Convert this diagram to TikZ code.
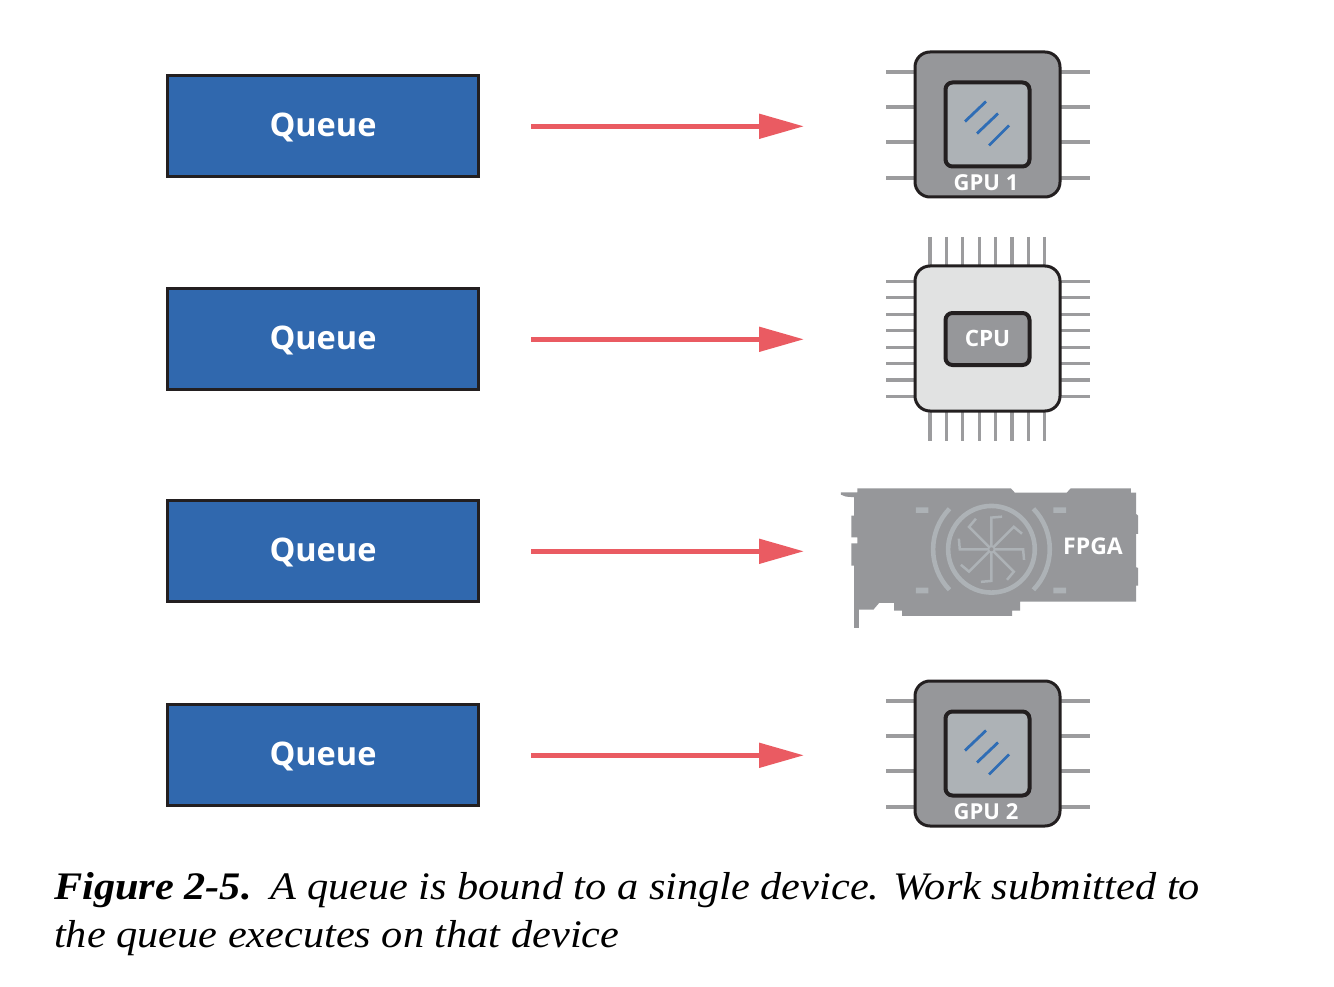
\documentclass[tikz,border=0pt]{standalone}
\usepackage{fontspec}
\setmainfont[FakeStretch=1.085]{Liberation Serif}
\newfontfamily\lblfont{Open Sans}
\usetikzlibrary{arrows.meta}
\definecolor{qblue}{HTML}{3068AE}
\definecolor{arrowred}{HTML}{EA5B62}
\definecolor{chipgray}{HTML}{96979A}
\definecolor{pingray}{HTML}{9C9C9E}
\definecolor{lightgray}{HTML}{ADB2B6}
\definecolor{cpubody}{HTML}{E1E2E2}
\definecolor{edge}{HTML}{231F20}
\definecolor{glass}{HTML}{2F6DB5}
\newcommand{\nudge}[2]{\raisebox{#1}[\height][\depth]{#2}}
\tikzset{
  x=1pt,y=-1pt,
  queue/.style={draw=edge,line width=2.6pt,fill=qblue,minimum width=311pt,minimum height=101pt,inner sep=0pt,text=white,font=\lblfont\bfseries\fontsize{32.5}{33}\selectfont},
  flow/.style={draw=arrowred,line width=5pt,-{Triangle[length=45pt,width=24pt,fill=arrowred]}},
  chipbody/.style={draw=edge,line width=3pt,rounded corners=15pt,minimum width=145pt,minimum height=145pt,inner sep=0pt},
  pin/.style={draw=pingray,line width=3.2pt},
  die/.style={draw=edge,line width=4pt,rounded corners=7pt,inner sep=0pt,minimum width=84pt},
  chiplabel/.style={text=white,inner sep=0pt,font=\lblfont\bfseries\fontsize{22}{22}\selectfont},
  glassline/.style={draw=glass,line width=2.8pt},
  fanpart/.style={draw=lightgray,line width=4.6pt},
}
\newcommand{\gpuchip}[3]{% name, centre y, label
  \foreach \d in {-52.5,-17.5,17.5,53.5}{
    \draw[pin] (886,#2+\d) -- (915,#2+\d);
    \draw[pin] (1060,#2+\d) -- (1090,#2+\d);
  }
  \node[chipbody,fill=chipgray] (#1) at (987.5,#2) {};
  \node[die,fill=lightgray,minimum height=84pt] (#1die) at (987.5,#2) {};
  \draw[glassline] (965,#2-3) -- (986,#2-23);
  \draw[glassline] (977,#2+9) -- (998,#2-11);
  \draw[glassline] (989,#2+21) -- (1009,#2+1);
  \node[chiplabel] (#1label) at (986,#2+58) {#3};
}
\begin{document}
\begin{tikzpicture}
\useasboundingbox (0,0) rectangle (1334,987);
\fill[white] (0,0) rectangle (1334,987);
% queues
\node[queue] (q1) at (323,126) {\nudge{-1pt}{Queue}};
\node[queue] (q2) at (323,339) {\nudge{-1pt}{Queue}};
\node[queue] (q3) at (323,551) {\nudge{-1pt}{Queue}};
\node[queue] (q4) at (323,755) {\nudge{-1pt}{Queue}};
% GPU 1, GPU 2
\gpuchip{gpua}{124.5}{GPU 1}
\gpuchip{gpub}{753.5}{GPU 2}
% CPU
\foreach \i in {0,...,7}{
  \draw[pin] (886,281.5+16.4*\i) -- (915,281.5+16.4*\i);
  \draw[pin] (1060,281.5+16.4*\i) -- (1090,281.5+16.4*\i);
  \draw[pin] (930+16.4*\i,237) -- (930+16.4*\i,266);
  \draw[pin] (930+16.4*\i,411) -- (930+16.4*\i,441);
}
\node[chipbody,fill=cpubody] (cpu) at (987.5,338.5) {};
\node[die,fill=chipgray,minimum height=52pt,font=\lblfont\bfseries\fontsize{22.5}{22.5}\selectfont,text=white] (cpudie) at (987.5,339) {\nudge{1pt}{CPU}};
% FPGA card
\begin{scope}[shift={(830.8,470.6)},scale=0.3333]
\fill[chipgray] (30,65)--(80,65)--(80,53)--(540,53)--(552,66)--(708,66)--(720,53)--(900,53)--(900,66)--(916,66)--(916,130)--(922,135)--(922,190)--(916,190)--(916,290)--(922,292)--(922,345)--(916,345)--(916,393)--(568,393)--(568,420)--(544,420)--(544,436)--(214,436)--(214,420)--(190,420)--(190,397)--(145,397)--(128,417)--(84,417)--(84,472)--(70,472)--(70,285)--(62,285)--(62,218)--(80,218)--(80,200)--(62,200)--(62,135)--(70,135)--(70,80)--(45,78)--(30,72)--cycle;
\fill[lightgray] (255,110) rectangle (293,127) (668,110) rectangle (706,127) (255,351) rectangle (293,368) (668,351) rectangle (706,368);
\coordinate (hub) at (482,236);
\draw[fanpart] (hub) circle[radius=130];
\draw[fanpart] (482,236)++(136:175) arc[start angle=136,end angle=224,radius=175];
\draw[fanpart] (482,236)++(44:175) arc[start angle=44,end angle=-44,radius=175];
\foreach \a in {0,45,...,315}{
  \draw[draw=lightgray,line width=2.5pt] (hub) -- ++(\a:95) -- ++(\a+85:32);
}
\fill[lightgray] (hub) circle[radius=12];
\fill[chipgray] (hub) circle[radius=6];
\end{scope}
\node[chiplabel,font=\lblfont\bfseries\fontsize{23}{23}\selectfont] (fpgalabel) at (1093,546) {FPGA};
% arrows
\coordinate (e1) at (804,126.3);
\coordinate (e2) at (804,339.3);
\coordinate (e3) at (804,551.3);
\coordinate (e4) at (804,755.3);
\coordinate (s1) at (531,126.3);
\coordinate (s2) at (531,339.3);
\coordinate (s3) at (531,551.3);
\coordinate (s4) at (531,755.3);
\draw[flow] (s1) -- (e1);
\draw[flow] (s2) -- (e2);
\draw[flow] (s3) -- (e3);
\draw[flow] (s4) -- (e4);
% caption
\node[anchor=base west,inner sep=0pt,font=\fontsize{39}{39}\selectfont\itshape] (cap1) at (54,899) {\textbf{Figure 2-5.}\hspace{19pt}A queue is bound to a single device. Work submitted to};
\node[anchor=base west,inner sep=0pt,font=\fontsize{39}{39}\selectfont\itshape] (cap2) at (54,947) {the queue executes on that device};
\end{tikzpicture}
\end{document}
